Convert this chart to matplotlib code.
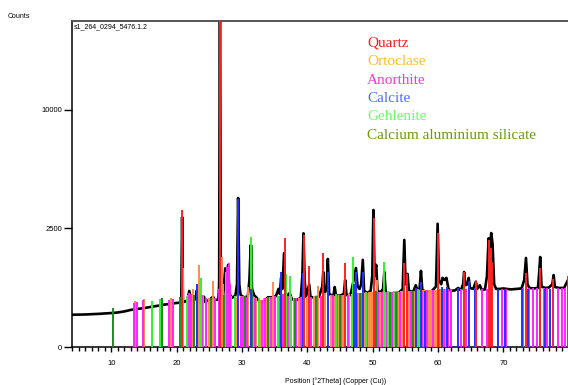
import numpy as np
import matplotlib.pyplot as plt
from matplotlib.ticker import MultipleLocator

# observed pattern, digitised (position in deg 2theta, counts)
pattern_pos = [4.0, 6.0, 8.0, 10.0, 11.0, 12.0, 13.0, 14.0, 15.0, 16.0, 17.0, 18.0, 19.0, 20.0,
               20.6, 20.72, 20.85, 20.98, 21.1, 21.6, 21.95, 22.2, 22.6, 22.95, 23.05, 23.2, 23.5,
               23.65, 23.8, 24.2, 24.4, 25.0, 25.6, 25.8, 26.4, 26.52, 26.64, 26.76, 26.9, 27.1,
               27.45, 27.65, 27.9, 28.1, 28.5, 29.0, 29.25, 29.42, 29.6, 29.8, 30.3, 30.9, 31.15,
               31.35, 31.55, 31.9, 32.2, 32.6, 33.0, 33.5, 34.0, 34.6, 35.2, 35.6, 35.8, 36.0,
               36.2, 36.45, 36.65, 37.0, 37.3, 37.6, 38.1, 38.5, 39.0, 39.25, 39.42, 39.6, 39.8,
               40.3, 40.5, 41.2, 41.8, 42.3, 42.45, 42.6, 42.95, 43.15, 43.35, 44.0, 44.2, 44.4,
               45.0, 45.6, 45.8, 46.0, 46.6, 46.9, 47.15, 47.45, 47.7, 48.0, 48.25, 48.5, 48.7,
               49.2, 49.7, 49.95, 50.12, 50.3, 50.55, 50.75, 51.2, 51.6, 51.8, 52.0, 52.6, 53.2,
               54.0, 54.6, 54.85, 55.05, 55.35, 55.55, 56.2, 56.6, 56.9, 57.2, 57.4, 57.6, 58.2,
               59.0, 59.7, 59.95, 60.15, 60.5, 60.7, 61.0, 61.3, 61.6, 62.0, 62.6, 63.1, 63.5,
               63.85, 64.0, 64.2, 64.5, 64.7, 64.9, 65.4, 65.8, 66.0, 66.4, 66.7, 67.2, 67.5,
               67.75, 67.95, 68.15, 68.35, 68.6, 68.9, 69.5, 70.0, 70.5, 71.2, 72.0, 72.8, 73.2,
               73.47, 73.7, 74.0, 74.6, 75.3, 75.45, 75.65, 75.85, 76.4, 77.0, 77.5, 77.7, 77.9,
               78.5, 79.3, 79.9, 80.0]
pattern_counts = [185, 188, 195, 205, 212, 225, 245, 258, 268, 285, 300, 318, 330, 345,
                  350, 380, 3000, 380, 360, 380, 560, 400, 380, 420, 560, 380, 345,
                  480, 360, 450, 360, 395, 450, 390, 400, 700, 30000, 700, 450, 420,
                  1100, 700, 1200, 500, 430, 470, 700, 3950, 700, 480, 440, 450, 800,
                  1850, 600, 470, 440, 380, 360, 390, 440, 440, 460, 600, 500, 850,
                  600, 1570, 520, 460, 520, 420, 380, 400, 430, 900, 2300, 800, 450,
                  700, 440, 440, 450, 650, 1000, 500, 600, 1380, 500, 460, 640, 470,
                  470, 500, 800, 480, 480, 650, 850, 1110, 650, 600, 700, 1350, 560,
                  520, 560, 900, 3340, 900, 1200, 560, 530, 600, 1000, 540, 500, 520,
                  520, 600, 2040, 700, 950, 560, 540, 680, 560, 620, 1030, 580, 540,
                  550, 650, 2700, 800, 700, 850, 800, 850, 600, 560, 570, 620, 570,
                  700, 1000, 680, 700, 850, 620, 600, 760, 600, 680, 580, 590, 900,
                  2100, 1600, 2310, 1900, 700, 600, 600, 610, 600, 590, 600, 610, 800,
                  1410, 700, 620, 610, 620, 900, 1440, 650, 620, 630, 700, 920, 640,
                  620, 620, 800, 620]

# reference sticks per phase (position, height in counts)
ortho_pos = [13.7, 15.05, 19.2, 20.95, 21.7, 22.5, 23.5, 24.1, 24.9, 25.6, 26.9, 27.1, 27.5,
             28.4, 29.1, 29.9, 30.4, 30.9, 31.8, 32.2, 32.8, 33.4, 33.8, 34.2, 34.8, 35.1,
             35.5, 36.4, 36.9, 37.5, 38.0, 38.7, 39.2, 40.0, 40.5, 41.1, 41.7, 42.3, 42.7,
             43.2, 43.6, 44.2, 44.9, 45.4, 46.4, 46.9, 47.4, 47.9, 48.3, 48.9, 49.5, 49.8,
             50.0, 50.6, 51.1, 51.6, 52.0, 52.4, 52.9, 53.2, 53.6, 54.0, 54.4, 54.7, 55.2,
             55.6, 56.0, 56.3, 56.7, 57.0, 57.3, 57.7, 58.0, 58.2, 58.6, 59.0, 59.4, 59.7,
             60.5, 61.1, 62.0]
ortho_h = [380, 410, 420, 1110, 480, 600, 1200, 480, 420, 780, 1440, 700, 1000,
           460, 420, 460, 440, 650, 440, 430, 400, 420, 430, 450, 750, 460,
           460, 480, 470, 460, 420, 420, 440, 450, 450, 470, 660, 470, 520,
           480, 480, 470, 480, 480, 500, 500, 510, 520, 520, 520, 530, 530,
           540, 800, 540, 540, 530, 520, 540, 530, 520, 530, 560, 560, 560,
           560, 560, 560, 560, 560, 570, 570, 570, 570, 570, 570, 580, 580,
           600, 600, 590]

anor_pos = [13.45, 13.9, 14.85, 18.8, 19.4, 21.95, 22.2, 22.7, 23.2, 23.9, 24.5, 25.9, 26.5,
            27.75, 27.95, 28.2, 29.8, 30.2, 30.8, 31.5, 32.0, 33.1, 33.6, 34.4, 35.0, 35.8,
            36.3, 37.1, 38.3, 39.1, 40.6, 41.5, 42.1, 43.9, 44.6, 45.2, 46.2, 47.6, 48.2,
            49.1, 50.3, 50.9, 51.5, 52.2, 53.0, 53.8, 54.2, 55.9, 57.5, 58.4, 59.2, 60.1,
            61.0, 61.6, 62.0, 63.5, 64.3, 66.7, 67.5, 69.2, 69.8, 70.4, 73.05, 73.97, 74.6,
            75.2, 76.3, 76.7, 78.3, 79.0, 79.5]
anor_h = [350, 360, 400, 400, 410, 520, 500, 480, 470, 480, 420, 420, 600,
          1150, 1256, 700, 450, 470, 440, 460, 430, 400, 420, 440, 470, 470,
          500, 470, 420, 440, 440, 460, 470, 480, 480, 480, 490, 510, 520,
          520, 560, 540, 540, 530, 530, 540, 540, 550, 560, 570, 580, 600,
          600, 600, 590, 590, 600, 600, 600, 600, 600, 600, 610, 610, 610,
          610, 620, 620, 620, 620, 620]

cas_pos = [10.2, 17.7, 20.5, 22.6, 25.3, 27.3, 30.5, 31.6, 34.0, 38.1, 41.3, 45.0, 48.0,
           50.5, 52.7, 53.6, 56.2, 68.05]
cas_h = [270, 420, 440, 480, 420, 480, 460, 1850, 440, 420, 460, 480, 520,
         560, 540, 540, 560, 1000]

gehl_pos = [16.25, 17.4, 21.55, 23.8, 28.95, 31.4, 32.6, 35.5, 36.75, 37.35, 44.4, 46.95,
            49.0, 50.2, 51.8, 52.3, 53.3, 57.0, 60.6]
gehl_h = [380, 410, 450, 850, 460, 2150, 430, 470, 950, 900, 500, 1440,
          540, 1440, 1290, 560, 560, 600, 620]

calc_pos = [23.06, 29.41, 31.43, 35.97, 39.40, 43.16, 47.12, 47.50, 48.52, 56.57, 57.41,
            58.08, 60.68, 61.37, 63.07, 64.68, 65.63, 69.22, 70.25, 72.93, 73.71, 76.33, 77.17]
calc_h = [700, 3900, 600, 1000, 980, 1000, 700, 1000, 1000, 620, 752,
          560, 650, 640, 620, 780, 620, 600, 600, 600, 600, 600, 600]

quartz_pos = [20.86, 26.64, 36.54, 39.47, 40.29, 42.45, 45.79, 50.14, 54.87, 55.33, 59.96,
              64.03, 65.79, 67.74, 68.14, 68.32, 73.47, 75.66, 77.67, 79.88]
quartz_h = [3340, 30000, 2115, 2250, 1168, 1580, 1256, 2960, 1256, 949, 2314,
            1000, 776, 2040, 1745, 1300, 975, 1110, 820, 900]

phase_names = ['Quartz', 'Ortoclase', 'Anorthite', 'Calcite', 'Gehlenite',
               'Calcium aluminium silicate']
text_colors = ['#ff1a1a', '#ffbb22', '#ff33cc', '#4a6cff', '#66ff66', '#6b9a0a']

fig = plt.figure(figsize=(5.68, 3.85), dpi=100)
ax = fig.add_axes([72 / 568, 1 - 347 / 385, 1 - 72 / 568, (347 - 21) / 385])

ax.set_yscale('function', functions=(lambda v: np.sqrt(np.clip(v, 0, None)),
                                     lambda v: np.square(v)))

ax.plot(pattern_pos, pattern_counts, color='black', lw=1.9, zorder=2)

sticks = [(ortho_pos, ortho_h, '#ff8a48'),
          (anor_pos, anor_h, '#ff22ff'),
          (cas_pos, cas_h, '#1f8a1f'),
          (gehl_pos, gehl_h, '#33f033'),
          (calc_pos, calc_h, '#2233ff'),
          (quartz_pos, quartz_h, '#ff2020')]
for pos, h, c in sticks:
    ax.vlines(pos, 0, h, colors=c, lw=1.4, zorder=3)

ax.set_xlim(4.0, 79.9)
ax.set_ylim(0, 18900)
ax.set_yticks([0, 2500, 10000])
ax.set_yticklabels(['0', '2500', '10000'])
ax.set_xticks(range(10, 80, 10))
ax.xaxis.set_minor_locator(MultipleLocator(1))

ax.tick_params(axis='y', length=6, width=1, labelsize=5.5, pad=1)
ax.tick_params(axis='x', which='major', length=3.5, width=1, labelsize=5.5, pad=6)
ax.tick_params(axis='x', which='minor', length=3, width=1)
for lab in ax.get_xticklabels() + ax.get_yticklabels():
    lab.set_family('Liberation Sans')

ax.spines['right'].set_visible(False)
ax.spines['top'].set_color('#555555')
ax.spines['top'].set_linewidth(1.4)
ax.spines['left'].set_linewidth(1.1)
ax.spines['bottom'].set_linewidth(1.1)

fig.text(8 / 568, 1 - 16 / 385, 'Counts', fontsize=5, family='Liberation Sans',
         va='center', ha='left')
ax.text(0.003, 0.992, 's1_264_0294_5476.1.2', transform=ax.transAxes, fontsize=5,
        family='Liberation Sans', va='top', ha='left')
fig.text(285 / 568, 1 - 381 / 385, 'Position [°2Theta] (Copper (Cu))', fontsize=5,
         family='Liberation Sans', va='center', ha='left')

for i, (name, col) in enumerate(zip(phase_names, text_colors)):
    fig.text(367 / 568, 1 - (43 + 18.5 * i) / 385, name, color=col, fontsize=11,
             family='Liberation Serif', va='center', ha='left')

fig.savefig('out.png', dpi=100)
